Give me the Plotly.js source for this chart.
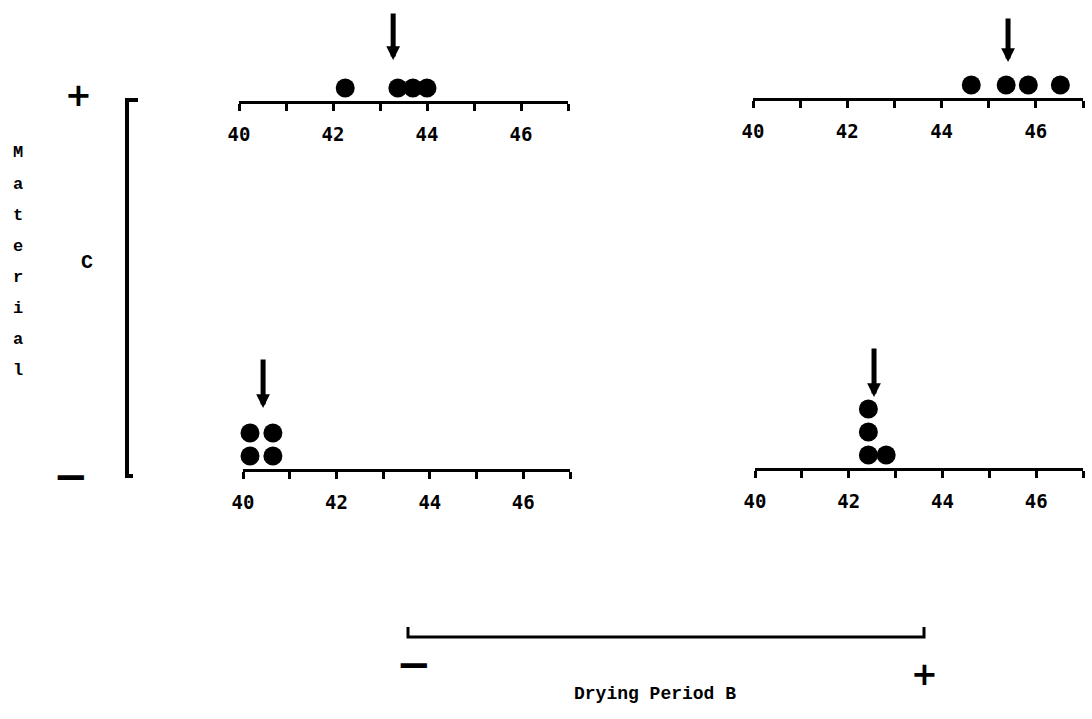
<!DOCTYPE html>
<html>
<head>
<meta charset="utf-8">
<script src="https://cdn.plot.ly/plotly-3.0.1.min.js"></script>
<style>html,body{margin:0;padding:0;background:#fff;}#chart{width:1092px;height:719px;}</style>
</head>
<body>
<div id="chart"></div>
<script>
// ---- data ----
const tickValues = [40, 42, 44, 46];
const tickLabels = ['40', '42', '44', '46'];
const axisRange = [40, 47];
const valsBminusCplus = [42.26, 43.38, 43.70, 44.00];
const valsBplusCplus = [44.63, 45.37, 45.84, 46.52];
const valsBminusCminus = [40.15, 40.15, 40.64, 40.64];
const valsBplusCminus = [42.42, 42.42, 42.42, 42.80];
const meanArrows = [43.28, 45.41, 40.43, 42.54];
const factorB = {name: 'Drying Period B', low: '−', high: '+'};
const factorC = {name: 'Material', letter: 'C', low: '−', high: '+'};

// ---- layout config (pixel positions) ----
const W = 1092, H = 719;
const UNIT = 23;      // px per stack level
const BASE = 13;      // px from axis to first dot centre
const panels = [
  {vals: valsBminusCplus,  x0: 239, x1: 568,  axisY: 101, gap: 28, len: 48},
  {vals: valsBplusCplus,   x0: 753, x1: 1083, axisY: 98,  gap: 23, len: 45},
  {vals: valsBminusCminus, x0: 243, x1: 570,  axisY: 469, gap: 25, len: 50},
  {vals: valsBplusCminus,  x0: 755, x1: 1083, axisY: 468, gap: 12, len: 50}
];
const px = x => x / W;
const py = y => 1 - y / H;

const traces = [];
const layout = {
  width: W, height: H, autosize: false,
  margin: {l: 0, r: 0, t: 0, b: 0, pad: 0},
  paper_bgcolor: '#ffffff', plot_bgcolor: 'rgba(0,0,0,0)',
  showlegend: false,
  annotations: [], shapes: []
};
const tickFont = {family: 'DejaVu Sans Mono', size: 19, color: '#000', weight: 'bold'};

panels.forEach((p, i) => {
  const n = i + 1;
  const xa = n === 1 ? 'xaxis' : 'xaxis' + n;
  const ya = n === 1 ? 'yaxis' : 'yaxis' + n;
  const xr = n === 1 ? 'x' : 'x' + n;
  const yr = n === 1 ? 'y' : 'y' + n;
  // stack levels for equal values
  const counts = {};
  const levels = p.vals.map(v => { counts[v] = (counts[v] || 0) + 1; return counts[v]; });
  const topLevel = Math.max(...levels);
  const hPx = Math.min(110, p.axisY - 2);
  const r0 = 1 - BASE / UNIT;
  layout[xa] = {
    domain: [px(p.x0), px(p.x1)], anchor: yr, range: axisRange,
    showline: true, linecolor: '#000', linewidth: 3,
    showgrid: false, zeroline: false, fixedrange: true,
    tickmode: 'array', tickvals: tickValues, ticktext: tickLabels,
    ticks: 'outside', ticklen: 7, tickwidth: 3, tickcolor: '#000',
    ticklabelstandoff: 7,
    minor: {tickmode: 'array', tickvals: [40, 41, 42, 43, 44, 45, 46, 47], ticks: 'outside', ticklen: 7, tickwidth: 3, tickcolor: '#000', showgrid: false},
    tickfont: tickFont
  };
  layout[ya] = {
    domain: [py(p.axisY), py(p.axisY - hPx)], anchor: xr,
    range: [r0, r0 + hPx / UNIT], visible: false, fixedrange: true
  };
  traces.push({
    type: 'scatter', mode: 'markers', x: p.vals, y: levels, xaxis: xr, yaxis: yr,
    marker: {color: '#000', size: 19, line: {width: 0}}, cliponaxis: false, hoverinfo: 'x'
  });
  layout.annotations.push({
    xref: xr, yref: yr, x: meanArrows[i], y: topLevel + p.gap / UNIT,
    text: '', showarrow: true, arrowhead: 2, arrowsize: 0.55, arrowwidth: 5,
    arrowcolor: '#000', ax: 0, ay: -p.len, standoff: 0
  });
});

// brackets
layout.shapes.push({
  type: 'path', xref: 'paper', yref: 'paper',
  path: `M${px(138)},${py(100)} L${px(127)},${py(100)} L${px(127)},${py(476)} L${px(133)},${py(476)}`,
  line: {color: '#000', width: 4}
});
layout.shapes.push({
  type: 'path', xref: 'paper', yref: 'paper',
  path: `M${px(408)},${py(627)} L${px(408)},${py(637)} L${px(924)},${py(637)} L${px(924)},${py(627)}`,
  line: {color: '#000', width: 3}
});

const txtFont = (s) => ({family: 'Liberation Mono', size: s, color: '#000', weight: 'bold'});
function addText(t, x, y, size, family) {
  const f = txtFont(size);
  if (family) f.family = family;
  layout.annotations.push({xref: 'paper', yref: 'paper', x: px(x), y: py(y), text: t,
    showarrow: false, xanchor: 'center', yanchor: 'middle', font: f});
}
// factor C (left)
addText(factorC.high, 78, 95, 32, 'DejaVu Sans');
addText(factorC.low, 70, 477, 42, 'DejaVu Sans');
addText(factorC.letter, 87, 262, 20);
factorC.name.split('').forEach((ch, k) => addText(ch, 18, 153 + k * 31, 17));
// factor B (bottom)
addText(factorB.low, 413, 664, 42, 'DejaVu Sans');
addText(factorB.high, 924, 674, 32, 'DejaVu Sans');
addText(factorB.name, 655, 694, 18);

Plotly.newPlot('chart', traces, layout, {displayModeBar: false, staticPlot: true});
</script>
</body>
</html>
